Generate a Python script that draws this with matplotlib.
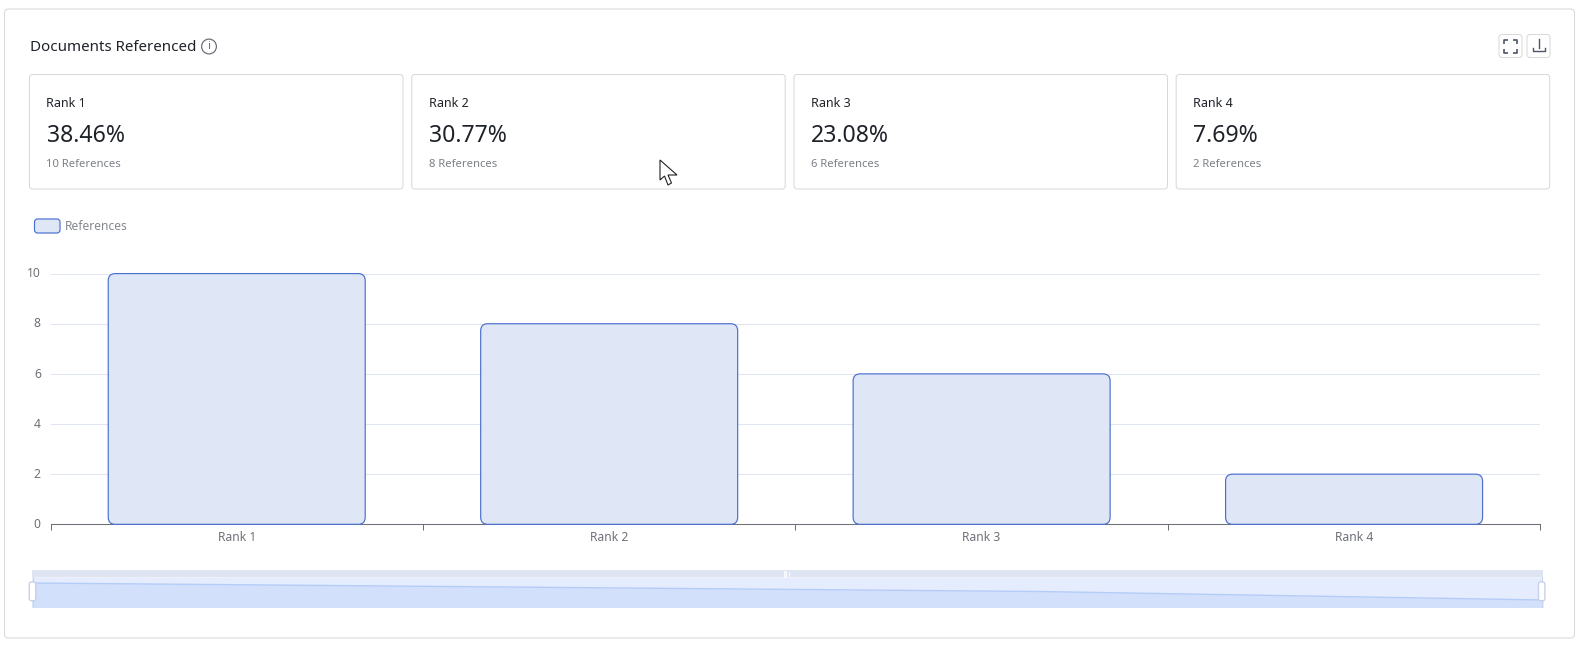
import numpy as np
import matplotlib
matplotlib.use("Agg")
import matplotlib.pyplot as plt
from matplotlib.patches import FancyBboxPatch, Circle, Polygon
from matplotlib.transforms import ScaledTranslation

plt.rcParams['font.family'] = ['Noto Sans', 'DejaVu Sans']

# data
ranks = ["Rank 1", "Rank 2", "Rank 3", "Rank 4"]
references = [10, 8, 6, 2]
shares = ["38.46%", "30.77%", "23.08%", "7.69%"]
ref_labels = ["10 References", "8 References", "6 References", "2 References"]
y_ticks = [0, 2, 4, 6, 8, 10]

W, H = 1582, 648
fig = plt.figure(figsize=(W / 100, H / 100), dpi=100, facecolor="white")

# pixel canvas for the page furniture
page = fig.add_axes([0, 0, 1, 1], zorder=0)
page.set_xlim(0, W)
page.set_ylim(H, 0)
page.axis("off")


def box(x0, y0, x1, y1, r=3, fc="white", ec="#d9d9d9", lw=0.75, ax=page, z=1):
    p = FancyBboxPatch((x0, y0), x1 - x0, y1 - y0, boxstyle=f"round,pad=0,rounding_size={r}",
                       fc=fc, ec=ec, lw=lw, zorder=z)
    ax.add_patch(p)
    return p


box(4.5, 9, 1574.5, 638, r=4)

title = page.text(29.5, 47.6, "Documents Referenced", fontsize=10.9, color="#1f2329", va="center")
title.set_fontweight(500)
page.add_patch(Circle((209, 46.5), 7.4, fc="none", ec="#6e7079", lw=0.9))
page.text(209, 46.8, "i", fontsize=8, color="#6e7079", ha="center", va="center")

# toolbar buttons
box(1499, 34.5, 1522, 57.5, r=3)
box(1527, 34.5, 1550, 57.5, r=3)
icon = "#4e5566"
for sx, sy in [(-1, -1), (1, -1), (-1, 1), (1, 1)]:
    cx, cy = 1510.5 + sx * 6.5, 46 + sy * 6.5
    page.plot([cx - sx * 4, cx, cx], [cy, cy, cy - sy * 4], color=icon, lw=1.2, solid_capstyle="butt", zorder=2)
page.plot([1532.5, 1532.5, 1544.5, 1544.5], [47.5, 50.5, 50.5, 47.5], color=icon, lw=1.0, zorder=2)
page.plot([1538.5, 1538.5], [39, 48], color=icon, lw=1.0, zorder=2)

# summary cards
card_left = [29.5, 411.7, 794, 1176.2]
for i, left in enumerate(card_left):
    box(left, 74.5, left + 373.5, 189, r=3)
    page.text(left + 17, 103.5, ranks[i], fontsize=9.0, color="#1f2329", va="center", zorder=2)
    page.text(left + 17, 136, shares[i], fontsize=16.6, color="#1f2329", va="center", zorder=2)
    page.text(left + 17, 164.5, ref_labels[i], fontsize=8.1, color="#7b8087", va="center", zorder=2)

# legend
box(34.5, 219, 60, 233, r=3, fc="#dfe6f5", ec="#4a6fd0", lw=0.85)
page.text(65, 226.8, "References", fontsize=8.7, color="#85888f", va="center")

# main bars
ax = fig.add_axes([50.5 / W, 1 - 524.3 / H, (1540.3 - 50.5) / W, (524.3 - 273.6) / H], zorder=1)
ax.patch.set_alpha(0)
centers = np.arange(len(ranks)) + 0.5
bars = ax.bar(centers, references, width=0.69, color="none", edgecolor="none")
ax.set_xlim(0, len(ranks))
ax.set_ylim(0, 10)

px_x = (1540.3 - 50.5) / len(ranks)
px_y = (524.3 - 273.6) / 10
radius = 7
for b in bars:
    ax.add_patch(FancyBboxPatch((b.get_x(), b.get_y()), b.get_width(), b.get_height(),
                                boxstyle=f"round,pad=0,rounding_size={radius / px_x}",
                                mutation_aspect=px_x / px_y, fc="#dfe6f5", ec="#4a6fd0",
                                lw=0.85, zorder=3, clip_on=False))

ax.set_yticks(y_ticks)
ax.set_xticks(np.arange(len(ranks) + 1))
ax.set_xticklabels([])
ax.set_xticks(centers, minor=True)
ax.set_xticklabels(ranks, minor=True, fontsize=8.7, color="#6e7079")
ax.tick_params(axis="x", which="major", length=4, width=0.75, color="#6e7079")
ax.tick_params(axis="x", which="minor", length=0, pad=4.8)
ax.tick_params(axis="y", length=0, pad=7, labelsize=8.7, labelcolor="#6e7079")
# y labels sit a touch above their grid lines
nudge = ScaledTranslation(0, 1.3 / 100, fig.dpi_scale_trans)
for lab in ax.get_yticklabels():
    lab.set_transform(lab.get_transform() + nudge)
ax.grid(axis="y", color="#e0e6f1", lw=0.75)
ax.set_axisbelow(True)
for side in ["top", "left", "right"]:
    ax.spines[side].set_visible(False)
ax.spines["bottom"].set_color("#6e7079")
ax.spines["bottom"].set_linewidth(0.75)
ax.spines["bottom"].set_zorder(2)

# zoom slider strip
box(32, 570, 1543, 577.5, r=0.5, fc="#dfe4f2", ec="none", lw=0)
for gx, gw in [(785, 3), (788.5, 1.2)]:
    page.plot([gx, gx], [572, 575.5], color="#f7f8fc", lw=gw * 0.72, zorder=3)

sl = fig.add_axes([32 / W, 1 - 606.7 / H, (1543 - 32) / W, (606.7 - 577.5) / H], zorder=2)
sl.set_facecolor("#e4ecfd")
sl.fill_between(range(len(references)), references, -2, color="#d2e0fb", lw=0)
sl.plot(range(len(references)), references, color="#b4ccf8", lw=1.0)
sl.set_xlim(0, len(references) - 1)
sl.set_ylim(-1.15, 12.6)
sl.axis("on")
sl.set_xticks([])
sl.set_yticks([])
for s in sl.spines.values():
    s.set_visible(False)

# handles go on top of the strip
top = fig.add_axes([0, 0, 1, 1], zorder=3)
top.set_xlim(0, W)
top.set_ylim(H, 0)
top.axis("off")
top.patch.set_alpha(0)
for hx in [32.5, 1541.7]:
    top.plot([hx, hx], [577, 606.7], color="#c9d4ec", lw=0.75)
    box(hx - 3.2, 582, hx + 3.2, 600.7, r=2, fc="white", ec="#c8d1e8", lw=1.0, ax=top, z=4)

# mouse pointer
cursor = [(660, 160), (660, 180), (664.5, 176), (668, 185), (671.5, 183), (668, 175), (677, 175)]
top.add_patch(Polygon(cursor, closed=True, fc="white", ec="#222222", lw=0.8, zorder=5))

fig.savefig("out.png", dpi=100, facecolor="white")
